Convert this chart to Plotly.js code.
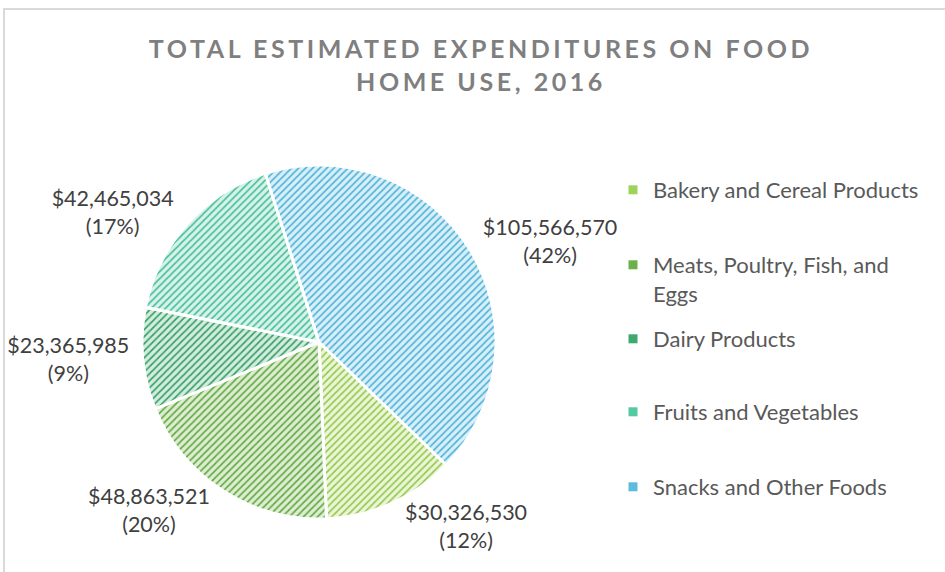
<!DOCTYPE html>
<html>
<head>
<meta charset="utf-8">
<script src="https://cdn.plot.ly/plotly-3.0.1.min.js"></script>
<style>
  html, body { margin: 0; padding: 0; background: #ffffff; }
  #chart { width: 945px; height: 572px; }
  .gtitle { letter-spacing: 3.55px; }
</style>
</head>
<body>
<div id="chart"></div>
<script>
// ---- data ----
var categories = [
  "Bakery and Cereal Products",
  "Meats, Poultry, Fish, and Eggs",
  "Dairy Products",
  "Fruits and Vegetables",
  "Snacks and Other Foods"
];
var expenditures = [30326530, 48863521, 23365985, 42465034, 105566570];
var legendLabels = [
  "Bakery and Cereal Products",
  "Meats, Poultry, Fish, and<br>Eggs",
  "Dairy Products",
  "Fruits and Vegetables",
  "Snacks and Other Foods"
];
var titleText = "TOTAL ESTIMATED EXPENDITURES ON FOOD<br>HOME USE, 2016";

// ---- styling ----
var lineColors = ["#92c94a", "#62a83f", "#349f66", "#42bf9a", "#4cb3d9"];
var fillColors = ["#ebf5d8", "#dcedd2", "#d3ecdd", "#d8f2e9", "#d9eff8"];
var legendColors = ["#9ed35a", "#6db04a", "#3fa86c", "#55c8a4", "#5cbcdf"];
var legendMarkerY = [190, 265, 339, 412, 487];

// percentages rounded so that they sum to 100 (largest remainder)
var total = expenditures.reduce(function (a, b) { return a + b; }, 0);
var raw = expenditures.map(function (v) { return v / total * 100; });
var pct = raw.map(Math.floor);
var left = 100 - pct.reduce(function (a, b) { return a + b; }, 0);
raw.map(function (r, i) { return { i: i, rem: r - Math.floor(r) }; })
   .sort(function (a, b) { return b.rem - a.rem; })
   .slice(0, left).forEach(function (o) { pct[o.i] += 1; });

var W = 945, H = 572;
var font = "Lato, 'Open Sans', sans-serif";

var traces = [{
  type: "pie",
  labels: categories,
  values: expenditures,
  customdata: pct,
  sort: false,
  direction: "clockwise",
  rotation: 134,
  domain: { x: [142 / W, 496 / W], y: [(H - 519) / H, (H - 165) / H] },
  marker: {
    colors: lineColors,
    line: { color: "#ffffff", width: 3 },
    pattern: {
      shape: "/",
      fillmode: "replace",
      fgcolor: lineColors,
      bgcolor: fillColors,
      size: 5,
      solidity: 0.33
    }
  },
  textposition: "outside",
  texttemplate: "$%{value:,}<br>(%{customdata}%)",
  textfont: { family: font, size: 21.5, color: "#404040" },
  showlegend: false,
  hoverinfo: "none"
}];

var layout = {
  width: W, height: H,
  margin: { l: 0, r: 0, t: 0, b: 0 },
  paper_bgcolor: "#ffffff",
  plot_bgcolor: "#ffffff",
  xaxis: { visible: false, range: [0, 1] },
  yaxis: { visible: false, range: [0, 1] },
  title: {
    text: titleText,
    x: 481 / W, xanchor: "center",
    y: 1 - 58 / H, yanchor: "top",
    font: { family: font, size: 25, color: "#7f7f7f", weight: "bold" }
  },
  shapes: [{
    type: "rect", xref: "paper", yref: "paper",
    x0: 4 / W, x1: 1.05, y0: -0.05, y1: 1 - 9 / H,
    line: { color: "#d9d9d9", width: 2 }
  }]
};

categories.forEach(function (c, i) {
  var key = i === 0 ? "legend" : "legend" + (i + 1);
  traces.push({
    type: "scatter", mode: "markers",
    x: [null], y: [null],
    name: legendLabels[i],
    legend: key,
    marker: { symbol: "square", size: 9, color: legendColors[i], line: { width: 0 } },
    hoverinfo: "none"
  });
  layout[key] = {
    x: 613 / W, xanchor: "left",
    y: 1 - (legendMarkerY[i] - 21) / H, yanchor: "top",
    valign: "top",
    bgcolor: "rgba(0,0,0,0)",
    font: { family: font, size: 22, color: "#595959" }
  };
});

Plotly.newPlot("chart", traces, layout, { displayModeBar: false, staticPlot: true });
</script>
</body>
</html>
